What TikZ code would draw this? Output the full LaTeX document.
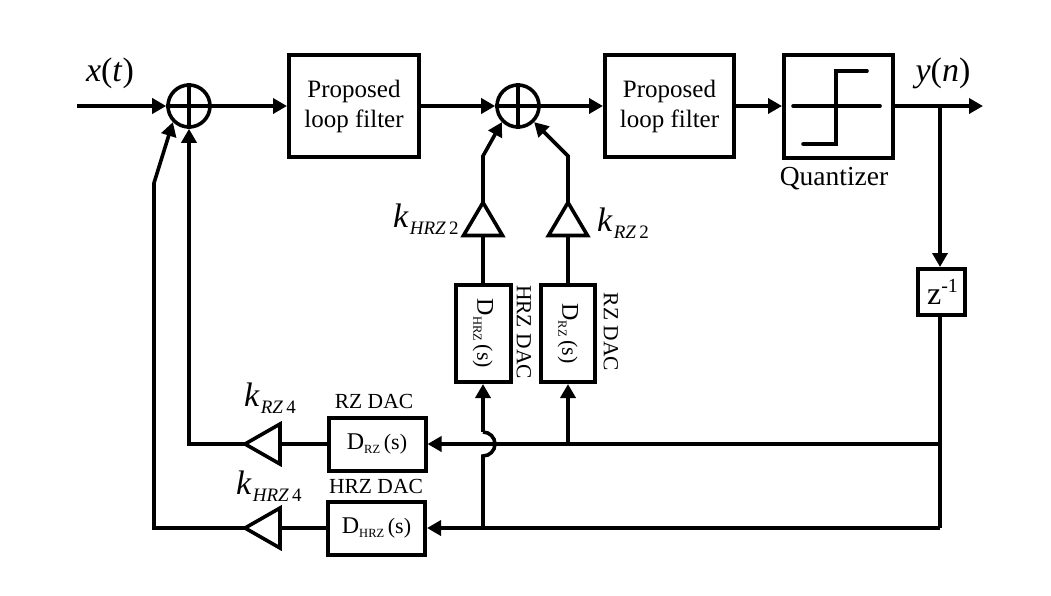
\documentclass[tikz,border=0pt]{standalone}
\usepackage{fontspec}
\setmainfont{Liberation Serif}
\usetikzlibrary{
  arrows.meta,
  shapes.geometric,
  positioning
}
\newcommand{\dacname}[1]{{\fontsize{24}{26}\selectfont D}\raisebox{-4pt}{\fontsize{12.5}{14}\selectfont #1}\,(s)}
\newcommand{\gainname}[2]{\textit{k}\hspace{1pt}\raisebox{-7pt}{\fontsize{19}{20}\selectfont\textit{#1}\,#2}}
\tikzset{
  wire/.style={line width=3.6pt},
  sig/.style={-{Triangle[length=14pt,width=15pt]}, line width=3.6pt},
  blockbox/.style={draw, line width=4pt, rectangle, inner sep=0pt, align=center},
  sumnode/.style={draw, circle, line width=3.6pt, minimum size=42pt, inner sep=0pt},
  ampup/.style={draw, isosceles triangle, isosceles triangle stretches, line width=3.6pt, outer sep=0pt,
    shape border rotate=90, minimum width=39pt, minimum height=33pt, inner sep=0pt, anchor=lower side},
  ampleft/.style={draw, isosceles triangle, isosceles triangle stretches, line width=3.6pt, outer sep=0pt,
    shape border rotate=180, minimum width=40pt, minimum height=35pt, inner sep=0pt, anchor=lower side},
  note/.style={font=\fontsize{25}{30}\selectfont},
  dacNote/.style={font=\fontsize{21.5}{24}\selectfont},
  mathNote/.style={font=\fontsize{34}{36}\selectfont},
}
\begin{document}
\begin{tikzpicture}[x=1pt,y=-1pt]
\useasboundingbox (0,0) rectangle (1051,595);
\fill[white] (0,0) rectangle (1051,595);

% --- Forward path ---
\coordinate (in) at (77,106);
\node[sumnode] (sumA) at (189,106) {};
\node[blockbox, note, minimum width=130pt, minimum height=102pt] (filterA) at (354,106) {Proposed\\loop filter};
\node[sumnode] (sumB) at (518,106) {};
\node[blockbox, note, minimum width=129pt, minimum height=102pt] (filterB) at (669.5,106) {Proposed\\loop filter};
\node[blockbox, minimum width=109pt, minimum height=103pt] (quant) at (838.5,106) {};
\coordinate (out) at (983,106);
\coordinate (tap) at (940,106);

\draw[wire] (sumA.north) -- (sumA.south);
\draw[wire] (sumA.west) -- (sumA.east);
\draw[wire] (sumB.north) -- (sumB.south);
\draw[wire] (sumB.west) -- (sumB.east);

% quantizer curve
\draw[wire, line cap=round] (793,106) -- (880,106);
\draw[wire, line cap=round, line join=miter] (803,144) -- (836,144) -- (836,71) -- (867,71);

\draw[sig] (in) -- (sumA.west);
\draw[sig] (sumA.east) -- (filterA.west);
\draw[sig] (filterA.east) -- (sumB.west);
\draw[sig] (sumB.east) -- (filterB.west);
\draw[sig] (filterB.east) -- (quant.west);
\draw[sig] (quant.east) -- (out);

% --- Delay and feedback rails ---
\node[blockbox, font=\fontsize{32}{34}\selectfont, minimum width=47pt, minimum height=46pt] (delay) at (941,292) {\hspace{3pt}z\raisebox{12pt}{\fontsize{20}{20}\selectfont -1}};
\coordinate (railA) at (940,444);
\coordinate (railB) at (940,528);
\draw[sig] (tap) -- (tap |- delay.north);
\draw[wire] (railB |- delay.south) -- (railB);

\node[blockbox, minimum width=97pt, minimum height=53pt, font=\fontsize{22}{24}\selectfont] (dacRZ) at (377,444) {\dacname{RZ}};
\node[blockbox, minimum width=97pt, minimum height=53pt, font=\fontsize{22}{24}\selectfont] (dacHRZ) at (376.5,528) {\dacname{HRZ}};
\node[ampleft] (ampRZ) at (280,444) {};
\node[ampleft] (ampHRZ) at (280,528) {};

\draw[sig] (railA) -- (dacRZ.east);
\draw[sig] (railB) -- (dacHRZ.east);
\draw[wire] (dacRZ.west) -- (ampRZ.lower side);
\draw[wire] (dacHRZ.west) -- (ampHRZ.lower side);
\draw[sig] (ampRZ.apex) -| (sumA.south);
\draw[sig, line join=miter] (ampHRZ.apex) -- (154,528) -- (154,183) -- (sumA.south west);

% --- Inner feedback ---
\node[blockbox, minimum width=55pt, minimum height=97pt, font=\fontsize{22}{24}\selectfont] (dacV) at (483,333.5) {\rotatebox{-90}{\dacname{HRZ}}};
\node[blockbox, minimum width=54pt, minimum height=97pt, font=\fontsize{22}{24}\selectfont] (dacW) at (568,333.5) {\rotatebox{-90}{\dacname{RZ}}};
\node[ampup] (ampV) at (483,235.5) {};
\node[ampup] (ampW) at (568,235.5) {};

\draw[wire] (dacV.north) -- (ampV.lower side);
\draw[wire] (dacW.north) -- (ampW.lower side);
\draw[sig, line join=miter] (ampV.apex) -- (483,156) -- (sumB.south west);
\draw[sig, line join=miter] (ampW.apex) -- (568,156) -- (sumB.south east);

\coordinate (jointV) at (483,528);
\coordinate (jointW) at (568,444);
\draw[sig] (jointW) -- (dacW.south);
\draw[wire] (jointV) -- (483,456) arc[start angle=-90, end angle=90, radius=12pt];
\draw[sig] (483,432) -- (dacV.south);

% --- Labels ---
\node[mathNote] (xlabel) at (110,73) {\textit{x}(\textit{t})};
\node[mathNote] (ylabel) at (943,73) {\textit{y}(\textit{n})};
\node[font=\fontsize{27.5}{30}\selectfont] (qlabel) at (834,179) {Quantizer};
\node[dacNote] (rzlabel) at (374,401) {RZ DAC};
\node[dacNote] (hrzlabel) at (376,486) {HRZ DAC};
\node[dacNote, rotate=-90] (hrzside) at (524,332) {HRZ DAC};
\node[dacNote, rotate=-90] (rzside) at (611,332) {RZ DAC};
\node[mathNote, anchor=base west, inner sep=0pt] (kA) at (393,227) {\gainname{HRZ}{2}};
\node[mathNote, anchor=base west, inner sep=0pt] (kB) at (597,231) {\gainname{RZ}{2}};
\node[mathNote, anchor=base west, inner sep=0pt] (kC) at (244,406) {\gainname{RZ}{4}};
\node[mathNote, anchor=base west, inner sep=0pt] (kD) at (236,494) {\gainname{HRZ}{4}};
\end{tikzpicture}
\end{document}
